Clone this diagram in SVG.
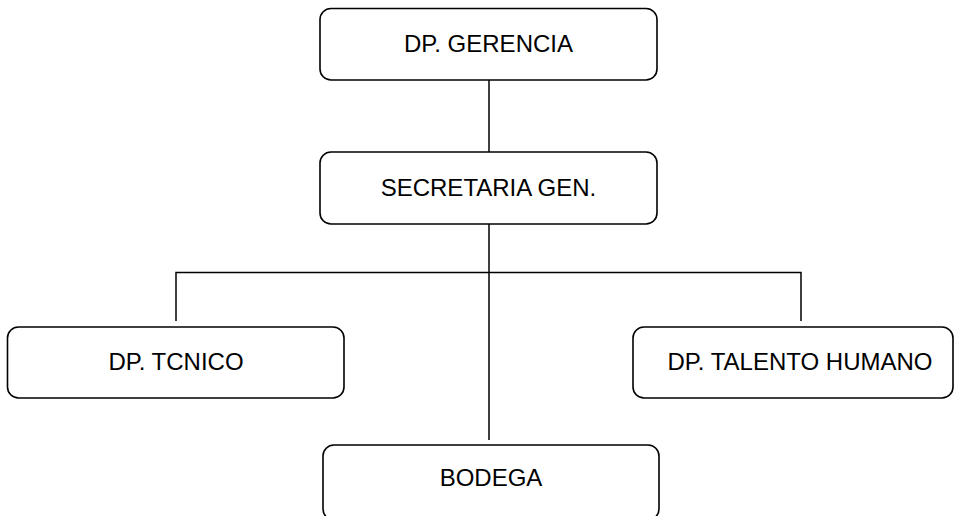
<svg xmlns="http://www.w3.org/2000/svg" width="960" height="516" viewBox="0 0 960 516">
<style>
.box{fill:#fff;stroke:#000;stroke-width:1.6}
.lbl{font-family:"Liberation Sans",Arial,sans-serif;font-size:24px;fill:#000;text-anchor:middle;dominant-baseline:central}
.con{fill:none;stroke:#000;stroke-width:1.5}
</style>
<rect width="960" height="516" fill="#fff"/>
<g id="connectors">
<line class="con" x1="489" y1="80" x2="489" y2="152"/>
<line class="con" x1="489" y1="224" x2="489" y2="440"/>
<polyline class="con" points="176,321 176,272.5 801,272.5 801,321"/>
</g>
<g id="gerencia">
<rect class="box" x="320" y="8.5" width="337" height="71.5" rx="11"/>
<text class="lbl" x="488.5" y="43">DP. GERENCIA</text>
</g>
<g id="secretaria">
<rect class="box" x="320" y="152" width="337" height="72" rx="11"/>
<text class="lbl" x="488.5" y="187">SECRETARIA GEN.</text>
</g>
<g id="tecnico">
<rect class="box" x="7.5" y="327" width="336.5" height="71" rx="11"/>
<text class="lbl" x="176" y="361">DP. TCNICO</text>
</g>
<g id="talento">
<rect class="box" x="633" y="327" width="320" height="71" rx="11"/>
<text class="lbl" x="800" y="361">DP. TALENTO HUMANO</text>
</g>
<g id="bodega">
<rect class="box" x="323" y="445" width="336" height="75" rx="11"/>
<text class="lbl" x="491" y="477">BODEGA</text>
</g>
</svg>
